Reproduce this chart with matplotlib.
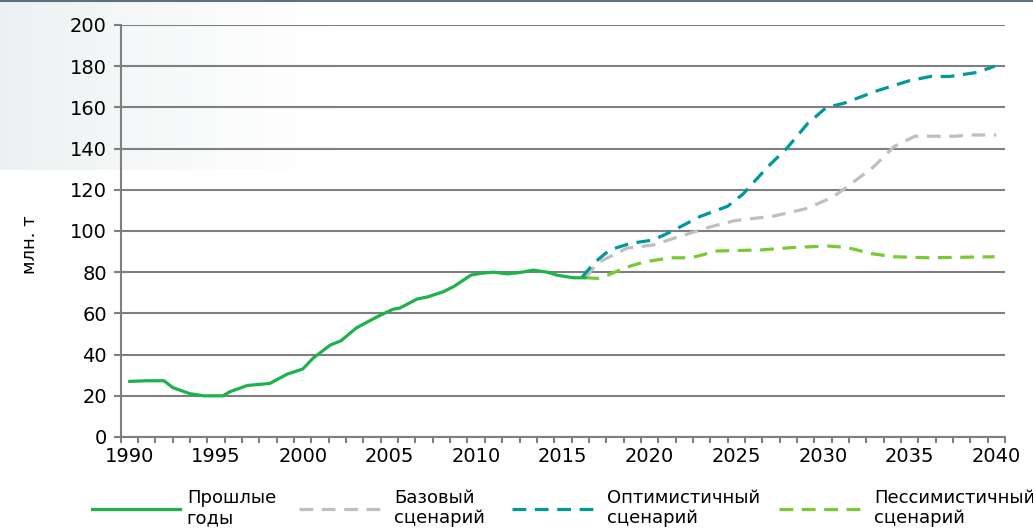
import numpy as np
import matplotlib
matplotlib.use('Agg')
import matplotlib.pyplot as plt
from matplotlib.lines import Line2D

# данные
hist_years = [1990, 1991, 1992, 1992.5, 1993.5, 1994.3, 1995.4, 1995.8, 1996.8, 1998.1,
              1999.1, 2000, 2000.6, 2001.6, 2002.2, 2003.1, 2004.3, 2005.2, 2005.6, 2006.6,
              2007.2, 2008.1, 2008.7, 2009.7, 2010.3, 2011, 2011.8, 2012.5, 2013.3, 2014.1,
              2014.7, 2015.6, 2016.3]
hist_vals = [27, 27.3, 27.3, 24, 21, 20, 20, 22, 25, 26,
             30.5, 33, 38.3, 44.7, 46.7, 53, 58.4, 62, 62.6, 67,
             68, 70.5, 73, 78.6, 79.5, 80, 79.2, 79.8, 81, 80,
             78.5, 77.3, 77.3]

base_years = [2016.3, 2017, 2018.7, 2020.2, 2021.6, 2023.5, 2024.9, 2027.2, 2029.1, 2030.6,
              2031.8, 2032.9, 2034.1, 2035.3, 2037.6, 2038.4, 2040]
base_vals = [77.3, 84.5, 91.7, 93.2, 97, 102, 105, 107.3, 111, 116.6,
             124, 131, 141, 146, 146, 146.6, 146.6]

opt_years = [2016.1, 2016.8, 2017.7, 2018.9, 2020.2, 2021.2, 2022.9, 2024.5, 2025.4, 2026.8,
             2027.9, 2029.1, 2030.2, 2031.2, 2033.1, 2035, 2036.2, 2037.3, 2038.9, 2039.9]
opt_vals = [77.5, 84.5, 90.8, 94, 95.6, 99.5, 107, 112, 118, 131,
            140, 152, 160, 162, 168, 173, 175, 175, 177, 180]

pess_years = [2016.3, 2017, 2017.6, 2018.7, 2019.7, 2021.2, 2022.4, 2023.9, 2026.4, 2028.3,
              2030.3, 2031.4, 2032.8, 2034.1, 2036.1, 2039.9]
pess_vals = [77.3, 77, 78.6, 82.5, 85, 87, 87, 90.3, 90.8, 92,
             92.7, 92, 89, 87.5, 87, 87.5]

labels = ['Прошлые\nгоды', 'Базовый\nсценарий', 'Оптимистичный\nсценарий', 'Пессимистичный\nсценарий']
colors = ['#1db34a', '#bfbfbf', '#00989a', '#79c932']
dash = (0, (4.3, 2.7))

plt.rcParams['font.family'] = ['DejaVu Sans']

W, H = 1033, 529
fig = plt.figure(figsize=(W / 100, H / 100), dpi=100)

# бледный фон в левом верхнем углу
bg = fig.add_axes([0, 1 - 170 / H, 340 / W, 170 / H], zorder=0)
grad = np.zeros((10, 200, 4))
grad[..., 0] = 0.91
grad[..., 1] = 0.93
grad[..., 2] = 0.94
grad[..., 3] = np.linspace(0.85, 0, 200) ** 1.3
bg.imshow(grad, aspect='auto', extent=[0, 1, 0, 1])
bg.axis('off')
fig.add_artist(Line2D([0, 1], [1 - 1 / H, 1 - 1 / H], transform=fig.transFigure,
                      color='#5d6f80', lw=1.5))

ax = fig.add_axes([120.7 / W, 1 - 437 / H, (1005 - 120.7) / W, (437 - 25) / H], zorder=1)
ax.set_facecolor('none')

ax.plot(hist_years, hist_vals, color=colors[0], lw=2.3, solid_capstyle='round', zorder=5)
ax.plot(base_years, base_vals, color=colors[1], lw=2.3, ls=dash, zorder=4)
ax.plot(opt_years, opt_vals, color=colors[2], lw=2.3, ls=dash, zorder=4)
ax.plot(pess_years, pess_vals, color=colors[3], lw=2.3, ls=dash, zorder=4)

ax.set_xlim(1989.5, 2040.5)
ax.set_ylim(0, 200)
ax.set_yticks(np.arange(0, 201, 20))
ax.set_xticks(np.arange(1990, 2041, 5))
ax.set_xticks(np.arange(1989.5, 2041, 1), minor=True)
ax.yaxis.grid(True, color='#7f7f7f', lw=1.5)
ax.set_axisbelow(True)
for s in ['top', 'right']:
    ax.spines[s].set_visible(False)
for s in ['left', 'bottom']:
    ax.spines[s].set_color('#7f7f7f')
    ax.spines[s].set_linewidth(1.5)
ax.tick_params(axis='y', length=5, width=1.5, color='#7f7f7f', pad=5, labelsize=14)
ax.tick_params(axis='x', which='major', length=0, pad=7, labelsize=14)
ax.tick_params(axis='x', which='minor', length=4.5, width=1.5, color='#7f7f7f')

fig.text(30 / W, 1 - 245 / H, 'млн. т', rotation=90, ha='center', va='center', fontsize=13)

# легенда: по одному элементу, как в оригинале
leg_x = [92, 299, 512, 779]
for i in range(4):
    h = Line2D([], [], color=colors[i], lw=2.3, ls='-' if i == 0 else dash)
    fig.legend(handles=[h], labels=[labels[i]], loc='center left',
               bbox_to_anchor=(leg_x[i] / W, 1 - 508 / H), frameon=False,
               fontsize=13, handlelength=4.9, handletextpad=0.35,
               borderpad=0, borderaxespad=0)

fig.savefig('out.png', dpi=100)
